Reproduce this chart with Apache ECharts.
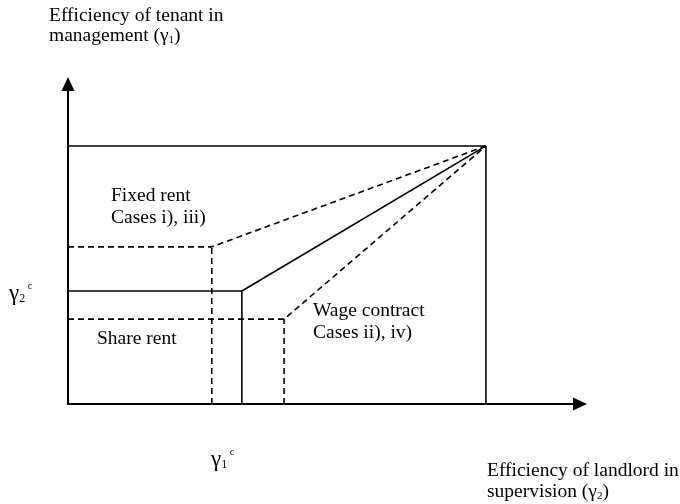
<!DOCTYPE html>
<html>
<head>
<meta charset="utf-8">
<script src="https://cdn.jsdelivr.net/npm/echarts@6/dist/echarts.min.js"></script>
<style>html,body{margin:0;padding:0;background:#fff;}#c{width:680px;height:504px;}</style>
</head>
<body>
<div id="c"></div>
<script>
// Axis extents (normalized: top-right corner of the region = (1,1))
const xMax = 1.225;
const yMax = 1.24;
// Boundaries
const outerTop = [[0, 1], [1, 1]];
const outerRight = [[1, 0], [1, 1]];
const solidBoundary = [[0, 0.438], [0.416, 0.438], [1, 1]];
const solidVertical = [[0.416, 0], [0.416, 0.438]];
const upperDashed = [[0, 0.609], [0.344, 0.609], [1, 1]];
const upperDashedVertical = [[0.344, 0], [0.344, 0.609]];
const lowerDashed = [[0, 0.329], [0.517, 0.329], [1, 1]];
const lowerDashedVertical = [[0.517, 0], [0.517, 0.329]];

const FONT = '"Liberation Serif", "Times New Roman", serif';
const FS = 19.5;

function lineSeries(data, dashed) {
  return {
    type: 'line', data: data, symbol: 'none', silent: true, animation: false,
    lineStyle: { color: '#000', width: 1.6, type: dashed ? [6, 4] : 'solid' }
  };
}

const chart = echarts.init(document.getElementById('c'), null, { renderer: 'canvas' });
const richSub = { fontSize: 11, fontFamily: FONT, fill: '#000', verticalAlign: 'bottom' };
const gammaRich = {
  g: { fontSize: 23, fontFamily: FONT, fill: '#000', verticalAlign: 'bottom' },
  s: { fontSize: 12, fontFamily: FONT, fill: '#000', verticalAlign: 'bottom' },
  p: { fontSize: 10, fontFamily: FONT, fill: '#000', verticalAlign: 'top' }
};
function txt(x, y, text, lh, rich) {
  return {
    type: 'text', x: x, y: y, silent: true,
    style: { text: text, fontFamily: FONT, fontSize: FS, lineHeight: lh || 21, fill: '#000', rich: rich || {} }
  };
}
chart.setOption({
  animation: false,
  backgroundColor: '#fff',
  grid: { left: 68, right: 100, top: 84, bottom: 100, containLabel: false },
  xAxis: {
    type: 'value', min: 0, max: xMax,
    axisLine: { show: true, onZero: false, lineStyle: { color: '#000', width: 2 }, symbol: ['none', 'triangle'], symbolSize: [13, 14] },
    axisTick: { show: false }, axisLabel: { show: false }, splitLine: { show: false }
  },
  yAxis: {
    type: 'value', min: 0, max: yMax,
    axisLine: { show: true, onZero: false, lineStyle: { color: '#000', width: 2 }, symbol: ['none', 'triangle'], symbolSize: [13, 14] },
    axisTick: { show: false }, axisLabel: { show: false }, splitLine: { show: false }
  },
  series: [
    lineSeries(outerTop, false),
    lineSeries(outerRight, false),
    lineSeries(solidBoundary, false),
    lineSeries(solidVertical, false),
    lineSeries(upperDashed, true),
    lineSeries(upperDashedVertical, true),
    lineSeries(lowerDashed, true),
    lineSeries(lowerDashedVertical, true)
  ],
  graphic: [
    txt(49, 6, 'Efficiency of tenant in\nmanagement (γ{s|1})', 20, { s: richSub }),
    txt(111, 185, 'Fixed rent\nCases i), iii)', 22),
    txt(97, 328, 'Share rent', 22),
    txt(313, 300, 'Wage contract\nCases ii), iv)', 22),
    txt(487, 460, 'Efficiency of landlord in\nsupervision (γ{s|2})', 21, { s: richSub }),
    txt(9, 281, '{g|γ}{s|2}{p| c}', 24, gammaRich),
    txt(211, 447, '{g|γ}{s|1}{p| c}', 24, gammaRich)
  ]
});
</script>
</body>
</html>
